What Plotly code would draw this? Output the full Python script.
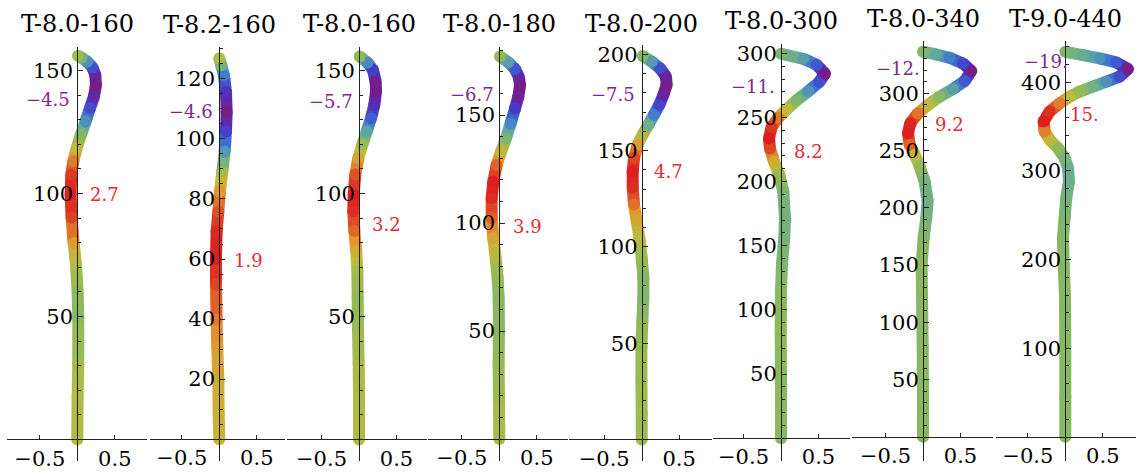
import plotly.graph_objects as go
from plotly.colors import sample_colorscale

# ---------------- data ----------------
titles = ["T-8.0-160", "T-8.2-160", "T-8.0-160", "T-8.0-180",
          "T-8.0-200", "T-8.0-300", "T-8.0-340", "T-9.0-440"]

p1_y = [0, 17.3, 30.8, 49.6, 60.4, 71.2, 79.9, 90.1, 99.6, 107.7, 113.1, 118.4, 123.9, 129.3, 134.7, 139.4, 144.1, 148.2, 151.1, 153.6, 155.2, 156.0]
p1_x = [0, 0.004, 0.013, 0.013, 0.004, -0.018, -0.049, -0.076, -0.089, -0.08, -0.053, -0.009, 0.049, 0.111, 0.169, 0.222, 0.249, 0.24, 0.204, 0.133, 0.058, 0.009]
p1_w = [0.3, 0.3, 0.1, -0.4, -0.3, 0.3, 1.3, 2.3, 2.7, 2.4, 1.7, 0.6, -0.5, -1.8, -3.0, -4.0, -4.5, -4.2, -3.0, -1.8, -0.8, 0.0]

p2_y = [0, 8.4, 20.0, 30.5, 39.9, 51.5, 60.0, 69.2, 75.8, 82.5, 89.1, 95.7, 102.4, 109.0, 115.6, 121.2, 124.5, 126.9]
p2_x = [0, -0.009, -0.013, -0.027, -0.036, -0.044, -0.044, -0.036, -0.013, 0.009, 0.04, 0.071, 0.089, 0.098, 0.089, 0.062, 0.027, 0]
p2_w = [0.1, 0.2, 0.3, 0.6, 1.0, 1.5, 1.9, 1.8, 1.4, 0.7, -0.5, -2.0, -3.5, -4.6, -3.8, -2.5, -1.3, -0.3]

p3_y = [0, 17.2, 30.8, 44.3, 57.7, 68.5, 76.6, 84.7, 92.8, 99.6, 107.7, 114.4, 119.8, 125.2, 130.6, 136.0, 141.4, 145.5, 150.2, 153.3, 155.7]
p3_x = [0, 0, -0.004, -0.013, -0.018, -0.022, -0.036, -0.062, -0.076, -0.071, -0.049, -0.009, 0.044, 0.102, 0.16, 0.204, 0.227, 0.222, 0.187, 0.111, 0.009]
p3_w = [0.2, 0.2, 0.1, -0.2, -0.4, 0.0, 1.0, 2.2, 3.0, 3.2, 2.5, 1.2, -0.2, -1.8, -3.5, -4.8, -5.6, -5.5, -4.2, -2.5, -0.5]

p4_y = [0, 19.2, 34.6, 50.0, 65.4, 74.6, 83.8, 93.0, 102.3, 111.5, 119.2, 126.9, 133.0, 139.2, 146.1, 153.0, 158.4, 163.8, 167.6, 171.4, 174.5, 177.2]
p4_x = [0, -0.004, -0.009, -0.004, -0.009, -0.022, -0.049, -0.08, -0.102, -0.102, -0.08, -0.036, 0.022, 0.089, 0.151, 0.209, 0.253, 0.276, 0.262, 0.209, 0.12, 0.009]
p4_w = [0.2, 0.0, -0.3, -0.6, -0.7, -0.4, 0.4, 1.5, 2.8, 3.7, 3.9, 2.8, 1.0, -1.0, -3.0, -5.0, -6.3, -6.7, -6.0, -4.3, -2.3, -0.5]

p5_y = [0, 13.5, 30.7, 48.0, 61.8, 73.8, 84.2, 94.5, 104.9, 113.5, 122.1, 130.7, 139.4, 146.3, 153.2, 158.4, 163.5, 168.7, 173.9, 179.0, 184.2, 188.5, 192.8, 196.3, 199.2]
p5_x = [0, 0, -0.004, -0.004, 0.009, 0.022, 0.022, 0, -0.031, -0.067, -0.102, -0.12, -0.12, -0.102, -0.053, 0.013, 0.089, 0.164, 0.236, 0.289, 0.333, 0.324, 0.244, 0.133, 0.013]
p5_w = [0.2, 0.2, 0.1, 0.0, -0.4, -0.8, -0.7, -0.1, 0.8, 1.8, 3.2, 4.4, 4.7, 4.0, 2.3, 0.5, -1.5, -3.5, -5.3, -6.8, -7.5, -7.0, -5.0, -2.5, -0.5]

p6_y = [0, 44.8, 83.6, 114.7, 135.4, 156.1, 171.6, 192.3, 205.3, 215.6, 225.9, 233.7, 242.8, 249.8, 256.5, 263.5, 270.5, 277.7, 284.2, 291.1, 295.8, 299.7]
p6_x = [0, 0, -0.004, 0, 0.013, 0.044, 0.053, 0.031, -0.022, -0.093, -0.147, -0.16, -0.124, -0.036, 0.076, 0.209, 0.364, 0.511, 0.587, 0.476, 0.298, 0]
p6_w = [0, 0, 0.2, 0, -0.5, -1.0, -1.2, -0.8, 0.5, 3.5, 7.0, 8.2, 7.5, 5.5, 2.5, -0.5, -3.5, -7.0, -11.0, -6.5, -3.0, -0.5]

p7_y = [0, 34.8, 78.3, 121.7, 150.8, 173.9, 191.3, 205.8, 223.2, 236.3, 246.4, 255.1, 265.2, 273.9, 282.6, 289.9, 297.1, 303.8, 310.8, 319.5, 326.1, 331.0, 333.9, 336.3]
p7_x = [0, 0, -0.004, -0.013, -0.018, 0.009, 0.044, 0.062, 0.022, -0.044, -0.111, -0.178, -0.2, -0.169, -0.067, 0.067, 0.222, 0.4, 0.556, 0.644, 0.533, 0.356, 0.178, 0]
p7_w = [0, 0, 0, 0, 0.3, -0.3, -1.0, -1.6, -1.0, 0.5, 3.0, 7.0, 9.2, 9.0, 6.5, 3.0, 0, -3.0, -7.0, -12.0, -8.0, -5.0, -2.5, -0.5]

p8_y = [0, 44.9, 101.1, 157.3, 194.8, 224.7, 247.2, 269.7, 288.4, 303.4, 314.6, 325.8, 335.3, 344.6, 355.8, 367.1, 376.4, 383.9, 389.6, 395.2, 400.8, 406.4, 415.1, 422.5, 427.0, 430.8, 434.5]
p8_x = [0, 0, 0, -0.004, -0.022, -0.031, -0.009, 0.013, 0.049, 0.036, -0.009, -0.098, -0.209, -0.276, -0.289, -0.209, -0.076, 0.058, 0.191, 0.369, 0.547, 0.724, 0.836, 0.68, 0.458, 0.236, 0]
p8_w = [0, 0, 0, 0, 0, 0, -0.5, -1.5, -2.5, -2.5, -1.0, 1.0, 5.0, 10.0, 15.0, 14.0, 10.0, 5.0, 1.5, -2.0, -6.0, -12.0, -19.0, -11.0, -6.0, -3.0, -0.5]

w_min = [-4.5, -4.6, -5.7, -6.7, -7.5, -11, -12, -19]
w_max = [2.7, 1.9, 3.2, 3.9, 4.7, 8.2, 9.2, 15]
min_text = ["−4.5", "−4.6", "−5.7", "−6.7", "−7.5", "−11.", "−12.", "−19."]
max_text = ["2.7", "1.9", "3.2", "3.9", "4.7", "8.2", "9.2", "15."]
# where the two value labels sit (data coordinates)
min_lab_x = [-0.075, -0.057, -0.053, -0.048, -0.063, -0.057, -0.017, 0.063]
min_lab_y = [138.1, 109.1, 137.4, 159.5, 179.0, 274.0, 321.7, 424.0]
max_lab_x = [0.147, 0.165, 0.147, 0.156, 0.133, 0.143, 0.138, 0.04]
max_lab_y = [99.6, 59.4, 87.4, 98.6, 139.3, 223.6, 272.5, 363.4]

major_ticks = [[50, 100, 150], [20, 40, 60, 80, 100, 120], [50, 100, 150], [50, 100, 150],
               [50, 100, 150, 200], [50, 100, 150, 200, 250, 300],
               [50, 100, 150, 200, 250, 300], [100, 200, 300, 400]]
minor_step = [10, 5, 10, 10, 10, 10, 10, 20]

xs = [p1_x, p2_x, p3_x, p4_x, p5_x, p6_x, p7_x, p8_x]
ys = [p1_y, p2_y, p3_y, p4_y, p5_y, p6_y, p7_y, p8_y]
ws = [p1_w, p2_w, p3_w, p4_w, p5_w, p6_w, p7_w, p8_w]

# ---------------- layout geometry (pixels) ----------------
W, H = 1138, 475
PX_PER_X = 75.0
# left, right, y-axis x, y0 px, px per y unit, axis top px, title y px
geom = [
    (7.3, 146.7, 77.3, 439.3, 2.47, 45.0, 21.7),
    (150.0, 285.0, 219.3, 439.0, 3.015, 45.0, 23.3),
    (287.0, 426.7, 359.0, 439.3, 2.47, 45.0, 21.7),
    (427.7, 568.3, 499.3, 438.8, 2.168, 45.0, 21.7),
    (569.0, 711.7, 641.7, 439.3, 1.933, 43.3, 21.7),
    (712.7, 850.0, 781.0, 438.0, 1.288, 41.7, 19.5),
    (852.0, 993.0, 923.0, 436.7, 1.15, 39.3, 16.7),
    (995.7, 1136.0, 1065.3, 436.7, 0.89, 39.3, 16.7),
]
AX_BOTTOM = 461.0

cs = [[0.0, 'rgb(120,28,135)'], [0.15, 'rgb(70,55,200)'], [0.30, 'rgb(62,115,210)'],
      [0.45, 'rgb(95,170,160)'], [0.58, 'rgb(140,185,90)'], [0.70, 'rgb(190,188,60)'],
      [0.82, 'rgb(228,150,45)'], [1.0, 'rgb(220,30,32)']]

FONT = "DejaVu Serif"
TICK_SIZE = 21
LW = 12
fig = go.Figure()
layout = dict(width=W, height=H, margin=dict(l=0, r=0, t=0, b=0),
              paper_bgcolor='white', plot_bgcolor='white', showlegend=False,
              font=dict(family=FONT, size=TICK_SIZE, color='black'), annotations=[])

for k in range(8):
    L, R, ax, y0, s, top, ty = geom[k]
    sfx = '' if k == 0 else str(k + 1)
    xr, yr = 'x' + sfx, 'y' + sfx
    lo, hi = w_min[k], w_max[k]
    X, Y, Wv = xs[k], ys[k], ws[k]
    for i in range(len(X) - 1):
        f = ((Wv[i] + Wv[i + 1]) / 2 - lo) / (hi - lo)
        f = min(1, max(0, f))
        c = sample_colorscale(cs, [f])[0]
        fig.add_trace(go.Scatter(x=[X[i], X[i + 1]], y=[Y[i], Y[i + 1]], mode='lines',
                                 line=dict(color=c, width=LW), xaxis=xr, yaxis=yr,
                                 hoverinfo='skip'))
    fig.add_trace(go.Scatter(x=X, y=Y, mode='markers', cliponaxis=False,
                             marker=dict(size=LW, color=Wv, colorscale=cs, cmin=lo, cmax=hi,
                                         line=dict(width=0)),
                             xaxis=xr, yaxis=yr, hoverinfo='skip'))

    top_val = (y0 - top) / s
    minor_vals = [v for v in range(minor_step[k], int(top_val) + 1, minor_step[k])]
    layout['xaxis' + sfx] = dict(
        domain=[L / W, R / W], range=[-(ax - L) / PX_PER_X, (R - ax) / PX_PER_X],
        anchor='free', position=(H - y0) / H, showline=True, linecolor='#222', linewidth=1,
        ticks='inside', ticklen=4, tickcolor='#222', tickvals=[-0.5, 0.5],
        showgrid=False, zeroline=False, layer='above traces',
        tickfont=dict(family=FONT, size=TICK_SIZE, color='black'))
    layout['yaxis' + sfx] = dict(
        domain=[(H - AX_BOTTOM) / H, (H - top) / H],
        range=[(y0 - AX_BOTTOM) / s, top_val],
        anchor='free', position=ax / W, showline=True, linecolor='#222', linewidth=1,
        ticks='inside', ticklen=5, tickcolor='#222', tickvals=major_ticks[k],
        minor=dict(tickvals=minor_vals, ticks='inside', ticklen=3, tickcolor='#222'),
        showgrid=False, zeroline=False, layer='above traces',
        tickfont=dict(family=FONT, size=TICK_SIZE, color='black'))

    layout['annotations'].append(dict(text=titles[k], xref='paper', yref='paper',
                                      x=ax / W, y=1 - ty / H, xanchor='center', yanchor='middle',
                                      showarrow=False, font=dict(family=FONT, size=24, color='black')))
    layout['annotations'].append(dict(text=min_text[k], xref=xr, yref=yr,
                                      x=min_lab_x[k], y=min_lab_y[k], xanchor='right', yanchor='middle',
                                      showarrow=False, font=dict(family=FONT, size=18, color='rgb(125,40,145)')))
    layout['annotations'].append(dict(text=max_text[k], xref=xr, yref=yr,
                                      x=max_lab_x[k], y=max_lab_y[k], xanchor='left', yanchor='middle',
                                      showarrow=False, font=dict(family=FONT, size=18, color='rgb(232,40,50)')))

fig.update_layout(**layout)
fig.write_html("out.html")
